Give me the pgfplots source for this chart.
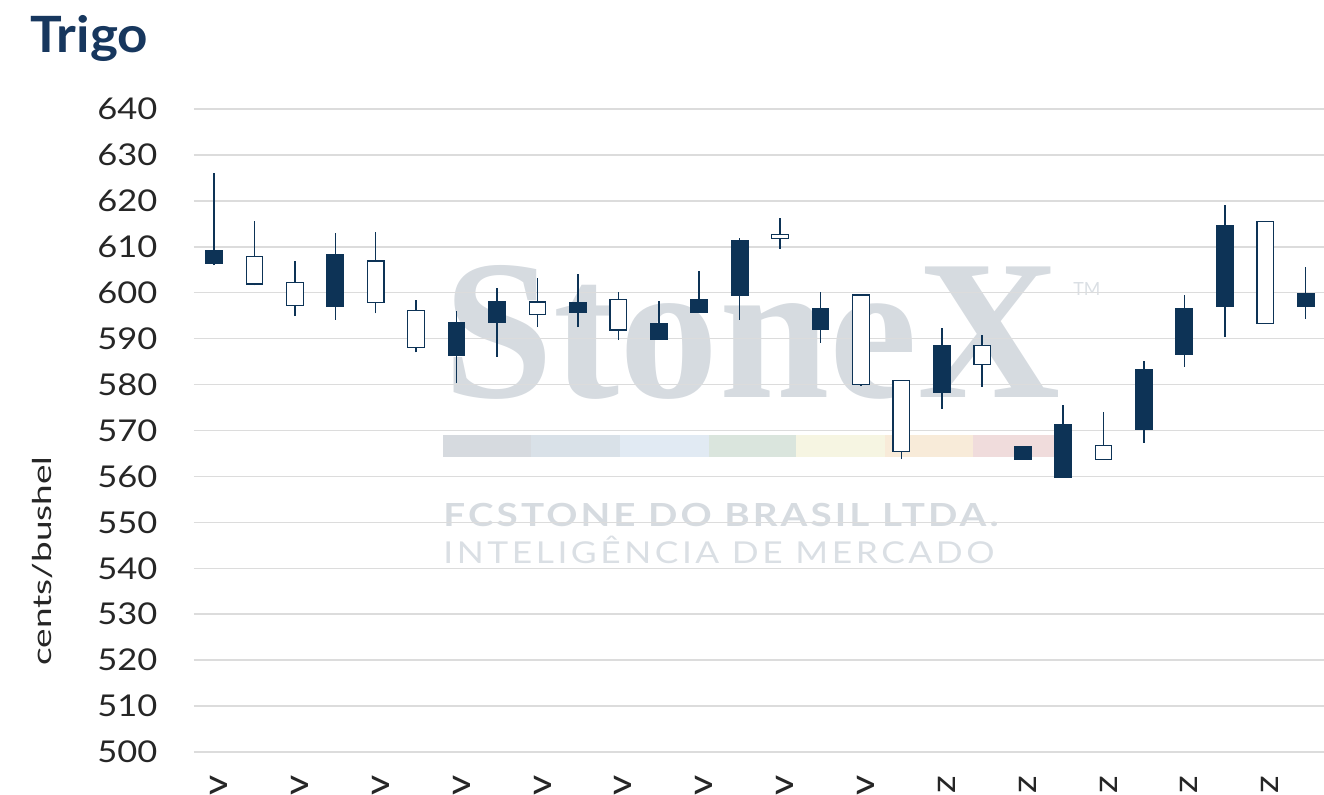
\documentclass[border=0pt]{standalone}
\usepackage{fontspec}
\setmainfont{Lato}
\newfontfamily\tickfont{Lato}[FakeStretch=1.15]
\newfontfamily\wmserif{Liberation Serif}
\usepackage{graphicx}
\usepackage{pgfplots}
\usepackage{pgfplotstable}
\pgfplotsset{compat=1.18}

\definecolor{navy}{HTML}{0D3356}
\definecolor{titlec}{HTML}{17375E}
\definecolor{txt}{HTML}{262626}
\definecolor{gridc}{HTML}{DCDCDC}
\definecolor{wm}{HTML}{D6DBE0}
\definecolor{wmt}{HTML}{DADFE4}
\definecolor{wmA}{HTML}{D6DADF}
\definecolor{wmB}{HTML}{D9E1E8}
\definecolor{wmC}{HTML}{E1EAF3}
\definecolor{wmD}{HTML}{DAE5DD}
\definecolor{wmE}{HTML}{F6F5E2}
\definecolor{wmF}{HTML}{F8EBD9}
\definecolor{wmG}{HTML}{F0DCDC}

% candle data: index, open, high, low, close (cents/bushel)
\pgfplotstableread{
i O H L C
0 609.1 626.1 606.0 606.4
1 601.9 615.7 601.6 607.8
2 597.3 606.8 594.9 602.3
3 608.4 612.9 594.1 597.0
4 597.9 613.3 595.5 606.9
5 588.1 598.5 587.0 596.1
6 593.4 596.0 580.3 586.3
7 598.0 601.0 586.1 593.6
8 595.2 603.1 592.5 598.0
9 597.8 604.1 592.5 595.7
10 591.9 600.1 589.7 598.6
11 593.2 598.2 589.9 589.9
12 598.6 604.7 595.7 595.7
13 611.3 612.0 594.1 599.4
14 611.8 616.3 609.6 612.7
15 596.5 600.1 589.1 592.1
16 580.1 599.8 579.7 599.5
17 565.4 580.8 563.7 580.8
18 588.5 592.4 574.7 578.3
19 584.4 590.9 579.5 588.5
20 566.5 566.5 563.6 563.6
21 571.3 575.5 559.8 559.8
22 563.6 574.0 563.6 566.7
23 583.3 585.1 567.3 570.3
24 596.5 599.4 583.9 586.5
25 614.7 619.1 590.4 597.0
26 593.3 615.5 593.3 615.5
27 599.9 605.6 594.3 597.0
}\candles

\pgfplotsset{
  candlegeom/.style={
    at={(96.9pt,21pt)}, anchor=south west,
    scale only axis, width=572.1pt, height=321.5pt,
    xmin=-0.5, xmax=27.8, ymin=500, ymax=640,
  },
}

\begin{document}
\begin{tikzpicture}
\path[use as bounding box] (0pt,0pt) rectangle (662pt,397pt);

% watermark
\node[anchor=base west, inner sep=0pt, text=wm] at (221.5pt,198.5pt) {\resizebox{308.5pt}{66pt}{\wmserif\bfseries StoneX}};
\node[anchor=south west, inner sep=0pt, text=wmt] at (536.5pt,249pt) {\resizebox{13.5pt}{6.5pt}{TM}};
\fill[wmA] (221.5pt,168.5pt) rectangle (265.5pt,179.5pt);
\fill[wmB] (265.5pt,168.5pt) rectangle (309.75pt,179.5pt);
\fill[wmC] (309.75pt,168.5pt) rectangle (354.25pt,179.5pt);
\fill[wmD] (354.25pt,168.5pt) rectangle (398pt,179.5pt);
\fill[wmE] (398pt,168.5pt) rectangle (442.5pt,179.5pt);
\fill[wmF] (442.5pt,168.5pt) rectangle (486.5pt,179.5pt);
\fill[wmG] (486.5pt,168.5pt) rectangle (527pt,179.5pt);
\node[anchor=base west, inner sep=0pt, text=wm] at (221.5pt,134pt) {\resizebox{277.5pt}{11.5pt}{\bfseries\addfontfeature{LetterSpace=8}\vphantom{I}\smash{FCSTONE DO BRASIL LTDA.}}};
\node[anchor=base west, inner sep=0pt, text=wmt] at (221.5pt,115.4pt) {\resizebox{275.5pt}{10.8pt}{\addfontfeature{LetterSpace=10}\vphantom{I}\smash{INTELIGÊNCIA DE MERCADO}}};

% title
\node[anchor=base west, inner sep=0pt, text=titlec] at (15pt,370.5pt) {\scalebox{1.06}[1.0]{\bfseries\fontsize{25}{25}\selectfont Trigo}};

% main axis: grid, labels, wicks
\begin{axis}[
  candlegeom,
  ytick={500,510,...,640},
  xtick={0,2,...,26},
  xticklabels={v,v,v,v,v,v,v,v,v,z,z,z,z,z},
  ymajorgrids, xmajorgrids=false,
  grid style={draw=gridc, line width=0.75pt},
  axis line style={draw=none},
  major tick length=0pt, tick style={draw=none},
  /pgf/number format/assume math mode=true,
  yticklabel style={font=\tickfont\fontsize{15}{15}\selectfont, text=txt, anchor=east, inner sep=0pt, xshift=-18pt},
  xticklabel style={font=\tickfont\fontsize{17}{17}\selectfont, text=txt, inner sep=0pt, yshift=-11.5pt, xshift=2.5pt, rotate=90, anchor=east},
  ylabel={\scalebox{1.42}[1.0]{\fontsize{13}{13}\selectfont cents/bushel}},
  every axis y label/.style={at={(axis description cs:-0.1326,0.297)}, anchor=center, rotate=90, text=txt, inner sep=0pt},
]
\addplot[draw=none, mark=none,
  error bars/.cd, y dir=plus, y explicit, error mark=none,
  error bar style={draw=navy, line width=0.75pt, solid}]
  table[x=i, y=L, y error plus expr=\thisrow{H}-\thisrow{L}] {\candles};
\end{axis}

% bodies: floating bars (invisible base + down body + up body)
\begin{axis}[
  candlegeom, hide axis,
  ybar stacked, bar width=0.41, bar shift=0pt,
]
\addplot[draw=none, fill=none] table[x=i, y expr={min(\thisrow{O},\thisrow{C})}] {\candles};
\addplot[draw=navy, fill=navy, line width=0.6pt] table[x=i, y expr={(\thisrow{C}<\thisrow{O})*(\thisrow{O}-\thisrow{C})}] {\candles};
\addplot[draw=navy, fill=white, line width=0.6pt] table[x=i, y expr={(\thisrow{C}>=\thisrow{O})*(\thisrow{C}-\thisrow{O})}] {\candles};
\end{axis}
\end{tikzpicture}
\end{document}
